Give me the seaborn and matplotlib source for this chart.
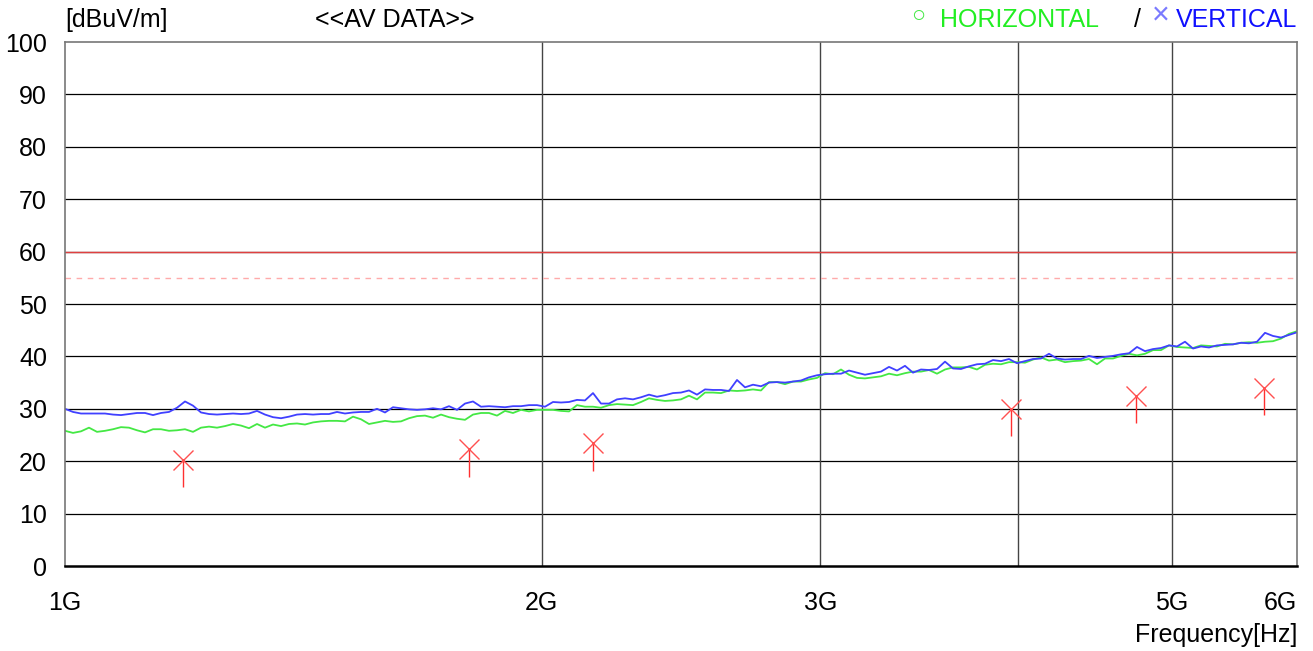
import numpy as np
import pandas as pd
import matplotlib
matplotlib.use("Agg")
import matplotlib.pyplot as plt
import seaborn as sns

# traces (dBuV/m), sweep 1 GHz -> 6 GHz on a log grid
vertical_db = [
    30.0, 29.4, 29.1, 29.1, 29.1, 29.1, 28.9, 28.8, 29.0, 29.2,
    29.2, 28.8, 29.2, 29.4, 30.2, 31.4, 30.6, 29.3, 29.0, 28.9,
    29.0, 29.1, 29.0, 29.1, 29.6, 28.9, 28.4, 28.2, 28.5, 28.9,
    29.0, 28.9, 29.0, 29.0, 29.4, 29.1, 29.3, 29.4, 29.4, 30.0,
    29.3, 30.3, 30.1, 29.9, 29.8, 29.9, 30.1, 29.9, 30.5, 29.8,
    31.0, 31.4, 30.4, 30.5, 30.4, 30.3, 30.5, 30.5, 30.7, 30.7,
    30.4, 31.3, 31.2, 31.3, 31.7, 31.6, 33.0, 31.0, 31.0, 31.8,
    32.0, 31.8, 32.2, 32.7, 32.3, 32.6, 33.0, 33.1, 33.5, 32.7,
    33.7, 33.6, 33.6, 33.4, 35.5, 34.1, 34.6, 34.3, 35.0, 35.1,
    35.0, 35.2, 35.4, 36.0, 36.4, 36.6, 36.7, 36.7, 37.3, 36.9,
    36.5, 36.8, 37.1, 38.0, 37.3, 38.2, 36.9, 37.5, 37.4, 37.6,
    39.0, 37.7, 37.6, 38.1, 38.5, 38.6, 39.3, 39.1, 39.5, 38.7,
    39.1, 39.5, 39.6, 40.5, 39.6, 39.4, 39.5, 39.5, 40.1, 39.7,
    39.9, 40.1, 40.4, 40.6, 41.8, 41.0, 41.4, 41.6, 42.1, 41.9,
    42.8, 41.5, 41.9, 41.7, 42.1, 42.2, 42.3, 42.6, 42.5, 42.8,
    44.5, 43.9, 43.6, 44.1, 44.6,
]
horizontal_db = [
    25.8, 25.4, 25.7, 26.4, 25.6, 25.8, 26.1, 26.5, 26.4, 25.9,
    25.5, 26.1, 26.1, 25.8, 25.9, 26.1, 25.6, 26.4, 26.6, 26.4,
    26.7, 27.1, 26.8, 26.3, 27.1, 26.4, 27.0, 26.7, 27.1, 27.2,
    27.0, 27.4, 27.6, 27.7, 27.7, 27.6, 28.5, 28.0, 27.1, 27.4,
    27.7, 27.5, 27.6, 28.2, 28.6, 28.7, 28.3, 28.9, 28.4, 28.1,
    27.9, 28.9, 29.2, 29.2, 28.7, 29.6, 29.2, 29.8, 29.5, 29.8,
    29.8, 29.8, 29.6, 29.5, 30.7, 30.4, 30.4, 30.2, 30.7, 30.9,
    30.8, 30.7, 31.3, 32.0, 31.7, 31.5, 31.6, 31.8, 32.5, 31.8,
    33.1, 33.1, 33.0, 33.5, 33.4, 33.5, 33.7, 33.5, 35.1, 35.1,
    34.7, 35.2, 35.2, 35.6, 35.9, 36.8, 36.6, 37.5, 36.5, 35.9,
    35.8, 36.0, 36.2, 36.7, 36.4, 36.8, 37.1, 37.1, 37.4, 36.7,
    37.5, 37.9, 37.9, 38.0, 37.5, 38.4, 38.6, 38.5, 38.9, 38.9,
    38.8, 39.4, 39.8, 39.2, 39.4, 38.9, 39.1, 39.2, 39.5, 38.5,
    39.6, 39.6, 40.1, 40.5, 40.2, 40.5, 41.2, 41.2, 42.1, 41.8,
    41.7, 41.6, 42.1, 42.0, 41.9, 42.4, 42.3, 42.6, 42.7, 42.6,
    42.8, 42.9, 43.4, 44.3, 44.8,
]
freq_hz = np.geomspace(1e9, 6e9, len(vertical_db))

# final AV measurements (marker level and bottom of the drop line)
peak_freq_ghz = [1.187, 1.799, 2.156, 3.957, 4.75, 5.72]
peak_db = [20.2, 22.3, 23.5, 30.0, 32.4, 34.0]
peak_low_db = [15.1, 17.0, 18.1, 24.8, 27.3, 28.8]

limit_db = 60
limit_margin_db = 55

x_ticks_ghz = [1, 2, 3, 5, 6]
x_tick_labels = ["1G", "2G", "3G", "5G", "6G"]
x_grid_ghz = [2, 3, 4, 5]

df = pd.DataFrame({
    "freq": np.concatenate([freq_hz, freq_hz]),
    "level": vertical_db + horizontal_db,
    "pol": ["VERTICAL"] * len(vertical_db) + ["HORIZONTAL"] * len(horizontal_db),
})

sns.set_theme(style="white")
plt.rcParams["font.family"] = ["Liberation Sans", "DejaVu Sans"]
plt.rcParams["text.color"] = "black"

fig = plt.figure(figsize=(13.13, 6.51), dpi=100)
ax = fig.add_axes([65 / 1313, 85 / 651, 1232 / 1313, 524 / 651])

sns.lineplot(data=df, x="freq", y="level", hue="pol",
             hue_order=["HORIZONTAL", "VERTICAL"],
             palette={"HORIZONTAL": "#44e844", "VERTICAL": "#4040ff"},
             estimator=None, sort=False, linewidth=1.3, legend=False, ax=ax)

ax.set_xscale("log")
ax.set_xlim(1e9, 6e9)
ax.set_ylim(0, 100)

# grid
for y in range(10, 100, 10):
    ax.axhline(y, color="black", lw=0.9, zorder=0)
for g in x_grid_ghz:
    ax.axvline(g * 1e9, color="#444444", lw=1.0, zorder=0)

# limits
ax.axhline(limit_db, color="#e04040", lw=1.0, zorder=1)
ax.axhline(limit_margin_db, color="#ffaaaa", lw=1.0, ls=(0, (4, 4)), zorder=1)

# peak markers
pf = np.array(peak_freq_ghz) * 1e9
ax.vlines(pf, peak_low_db, peak_db, color="#ff3030", lw=1.0, zorder=4)
ax.plot(pf, peak_db, ls="none", marker="x", ms=15, mew=1.0, color="#ff5050", zorder=5)

ax.set_xticks([t * 1e9 for t in x_ticks_ghz])
ax.set_xticklabels(x_tick_labels)
ax.xaxis.set_minor_locator(matplotlib.ticker.NullLocator())
ax.set_yticks(range(0, 101, 10))
ax.tick_params(axis="both", length=0, labelsize=18, colors="black")
ax.tick_params(axis="x", pad=18)
ax.tick_params(axis="y", pad=13)
ax.get_xticklabels()[-1].set_ha("right")
ax.set_xlabel("")
ax.set_ylabel("")

for side in ["left", "top", "right"]:
    ax.spines[side].set_color("#777777")
    ax.spines[side].set_linewidth(1.2)
ax.spines["bottom"].set_color("black")
ax.spines["bottom"].set_linewidth(1.8)

# header texts
ty = 1 - 20 / 651
fig.text(65 / 1313, ty, "[dBuV/m]", fontsize=18, va="center", ha="left")
fig.text(315 / 1313, ty, "<<AV DATA>>", fontsize=18, va="center", ha="left")
fig.text(918 / 1313, 1 - 16 / 651, "\u25cb", fontsize=17, color="#44e844", va="center", ha="center")
fig.text(940 / 1313, ty, "HORIZONTAL", fontsize=18, color="#22ee22", va="center", ha="left")
fig.text(1137 / 1313, ty, "/", fontsize=18, color="black", va="center", ha="center")
fig.text(1161 / 1313, 1 - 16 / 651, "\u00d7", fontsize=22, color="#7a7aff", va="center", ha="center")
fig.text(1297 / 1313, ty, "VERTICAL", fontsize=18, color="#1010ff", va="center", ha="right")
fig.text(1297 / 1313, 1 - 635 / 651, "Frequency[Hz]", fontsize=18, va="center", ha="right")

fig.savefig("out.png", dpi=100, facecolor="white")
